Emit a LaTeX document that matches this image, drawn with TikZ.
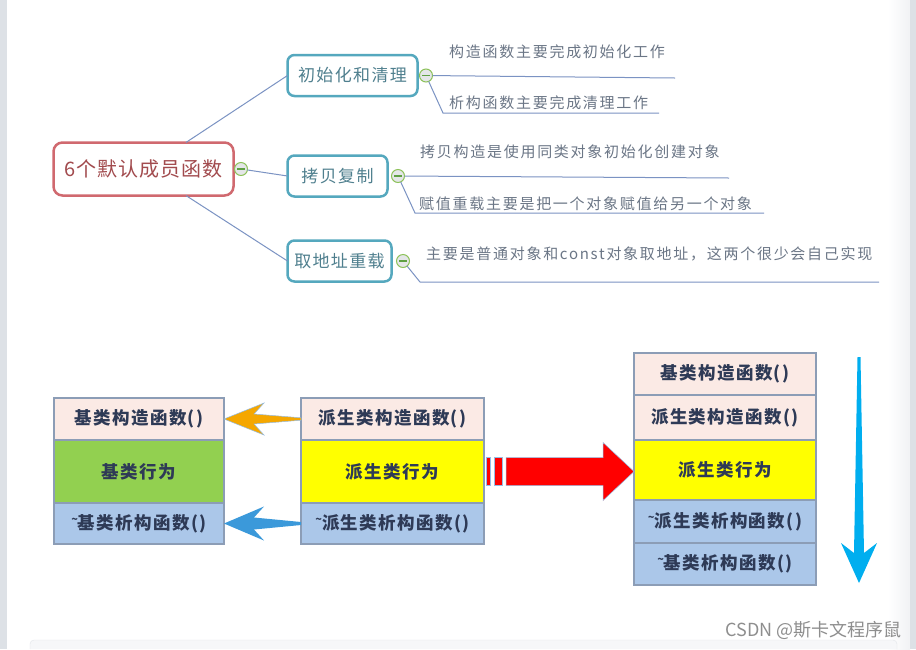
\documentclass[tikz,border=0pt]{standalone}
\usepackage{fontspec}
\usepackage{xcolor}
\setmainfont{Noto Sans CJK SC}
\newfontfamily\cjk{Noto Sans CJK SC}
\newfontfamily\cjkroot[LetterSpace=5]{Noto Sans CJK SC}
\newfontfamily\cjktopic[LetterSpace=8]{Noto Sans CJK SC}
\newfontfamily\cjkleaf[LetterSpace=11.5]{Noto Sans CJK SC}
\newfontfamily\cjkcell[LetterSpace=8]{Noto Sans CJK SC}
\usetikzlibrary{positioning,calc}

\definecolor{rootline}{HTML}{D0696F}
\definecolor{roottext}{HTML}{A24B4E}
\definecolor{topicline}{HTML}{55A8BE}
\definecolor{topictext}{HTML}{4F7F8E}
\definecolor{foldline}{HTML}{8DC25A}
\definecolor{foldfill}{HTML}{E4E6E8}
\definecolor{foldbar}{HTML}{5FA043}
\definecolor{branchline}{HTML}{7B93C3}
\definecolor{leaftext}{HTML}{6B7686}
\definecolor{cellline}{HTML}{8C9DB6}
\definecolor{celltext}{HTML}{2E3A56}
\definecolor{cellpink}{HTML}{FBEAE5}
\definecolor{cellgreen}{HTML}{92D050}
\definecolor{cellyellow}{HTML}{FFFF00}
\definecolor{cellblue}{HTML}{ABC7E9}
\definecolor{orangearr}{HTML}{F5A700}
\definecolor{bluearr}{HTML}{3B99DA}
\definecolor{redarr}{HTML}{FF0000}
\definecolor{rededge}{HTML}{95BDE5}
\definecolor{cyanarr}{HTML}{00AEEF}
\definecolor{chrome}{HTML}{DDE1E6}
\definecolor{chromelight}{HTML}{F1F2F4}
\definecolor{boxfill}{HTML}{F6F7F9}
\definecolor{boxline}{HTML}{E2E5E9}
\definecolor{csdngray}{HTML}{8E8E8E}

\newcommand{\tilda}{\raisebox{.35em}{\fontsize{11}{11}\selectfont\textasciitilde}}

\begin{document}
\begin{tikzpicture}[
    x=1pt, y=-1pt,
    root/.style={rectangle, rounded corners=9pt, draw=rootline, line width=2.5pt,
                 fill=white, text=roottext, font=\cjkroot\fontsize{20}{23}\selectfont,
                 minimum width=180, minimum height=53, outer sep=0pt},
    topic/.style={rectangle, rounded corners=7pt, draw=topicline, line width=2.5pt,
                  fill=white, text=topictext, font=\cjktopic\fontsize{17}{20}\selectfont,
                  minimum height=41, outer sep=0pt},
    fold/.style={circle, draw=foldline, line width=1pt, fill=foldfill,
                 minimum size=13, inner sep=0pt, outer sep=0pt,
                 path picture={\draw[foldbar, line width=1.3pt]
                   ([xshift=-4pt]path picture bounding box.center) --
                   ([xshift=4pt]path picture bounding box.center);}},
    leaf/.style={anchor=west, inner sep=0pt, text=leaftext,
                 font=\cjkleaf\fontsize{15}{18}\selectfont},
    branch/.style={draw=branchline, line width=1pt},
    cell/.style={rectangle, draw=cellline, line width=2pt, text=celltext,
                 font=\cjkcell\bfseries\fontsize{17.5}{20}\selectfont,
                 inner sep=0pt, outer sep=0pt},
    arrshape/.style={line width=0.5pt, line join=miter}
  ]
  \useasboundingbox (0,0) rectangle (916,649);
  % page
  \fill[white] (0,0) rectangle (916,649);
  \fill[chrome] (0,0) rectangle (7,649);
  \shade[left color=white, right color=chromelight] (888,0) rectangle (910,649);
  \fill[chrome] (910,0) rectangle (916,649);
  \draw[rounded corners=4pt, fill=boxfill, draw=boxline] (30,649) -- (30,640) -- (897,640) -- (897,649);

  % mind map
  \node[root] (root) at (143.5,169) {6个默认成员函数};
  \node[topic, minimum width=130] (t1) at (352.5,75.5) {初始化和清理};
  \node[topic, minimum width=100] (t2) at (337.5,176) {拷贝复制};
  \node[topic, minimum width=104] (t3) at (339.5,261) {取地址重载};
  \node[fold, right=1pt of root] (f0) {};
  \node[fold, right=2pt of t1] (f1) {};
  \node[fold, right=4pt of t2] (f2) {};
  \node[fold, right=5pt of t3] (f3) {};

  \node[leaf] (c1) at (449,52) {构造函数主要完成初始化工作};
  \node[leaf] (c2) at (449,103) {析构函数主要完成清理工作};
  \node[leaf] (c3) at (420,152) {拷贝构造是使用同类对象初始化创建对象};
  \node[leaf] (c4) at (419,204) {赋值重载主要是把一个对象赋值给另一个对象};
  \node[leaf] (c5) at (426,254) {主要是普通对象和const对象取地址，这两个很少会自己实现};

  \coordinate (c1e) at (675,78);
  \coordinate (c2k) at (443,113);
  \coordinate (c2e) at (659,113);
  \coordinate (c3e) at (729,178);
  \coordinate (c4k) at (415,213);
  \coordinate (c4e) at (764,213);
  \coordinate (c5k) at (420,282);
  \coordinate (c5e) at (879,282);

  \draw[branch] (root.32) -- (t1.west);
  \draw[branch] (f0) -- (t2.west);
  \draw[branch] (root.-32) -- (t3.west);
  \draw[branch] (f1) -- (c1e);
  \draw[branch] (f1) -- (c2k) -- (c2e);
  \draw[branch] (f2) -- (c3e);
  \draw[branch] (f2) -- (c4k) -- (c4e);
  \draw[branch] (f3) -- (c5k) -- (c5e);

  % base class
  \node[cell, fill=cellpink, minimum width=170, minimum height=42, anchor=north] (l1) at (139,398) {基类构造函数()};
  \node[cell, fill=cellgreen, minimum width=170, minimum height=63, below=0pt of l1] (l2) {基类行为};
  \node[cell, fill=cellblue, minimum width=170, minimum height=41, below=0pt of l2] (l3) {\tilda{}基类析构函数()};
  % derived class
  \node[cell, fill=cellpink, minimum width=183, minimum height=42, anchor=north] (m1) at (392.5,398) {派生类构造函数()};
  \node[cell, fill=cellyellow, minimum width=183, minimum height=63, below=0pt of m1] (m2) {派生类行为};
  \node[cell, fill=cellblue, minimum width=183, minimum height=41, below=0pt of m2] (m3) {\tilda{}派生类析构函数()};
  % whole object
  \node[cell, fill=cellpink, minimum width=182, minimum height=42, anchor=north] (r1) at (725,353) {基类构造函数()};
  \node[cell, fill=cellpink, minimum width=182, minimum height=45, below=0pt of r1] (r2) {派生类构造函数()};
  \node[cell, fill=cellyellow, minimum width=182, minimum height=60, below=0pt of r2] (r3) {派生类行为};
  \node[cell, fill=cellblue, minimum width=182, minimum height=43, below=0pt of r3] (r4) {\tilda{}派生类析构函数()};
  \node[cell, fill=cellblue, minimum width=182, minimum height=42, below=0pt of r4] (r5) {\tilda{}基类析构函数()};

  % call arrows
  \filldraw[arrshape, fill=orangearr, draw=rededge] (l1.east) -- ++(40,-16) -- ++(-10,11)
    -- ($(m1.west)+(0,-1.2)$) -- ($(m1.west)+(0,1.2)$) -- ($(l1.east)+(30,5)$)
    -- ($(l1.east)+(40,16)$) -- cycle;
  \fill[bluearr] (l3.east) -- ++(40,-17) -- ++(-10,11)
    -- ($(m3.west)+(0,-1.5)$) -- ($(m3.west)+(0,1.5)$) -- ($(l3.east)+(30,6)$)
    -- ($(l3.east)+(40,17)$) -- cycle;

  % inheritance arrow
  \filldraw[arrshape, fill=redarr, draw=rededge] ($(m2.east)+(2,-14)$) rectangle ($(m2.east)+(6,14)$);
  \filldraw[arrshape, fill=redarr, draw=rededge] ($(m2.east)+(10,-14)$) rectangle ($(m2.east)+(18,14)$);
  \filldraw[arrshape, fill=redarr, draw=rededge] ($(m2.east)+(22,-14)$)
    -- ($(r3.west |- m2.east)+(-31,-14)$) -- ($(r3.west |- m2.east)+(-31,-29)$)
    -- (r3.west |- m2.east) -- ($(r3.west |- m2.east)+(-31,29)$)
    -- ($(r3.west |- m2.east)+(-31,14)$) -- ($(m2.east)+(22,14)$) -- cycle;

  % order arrow
  \fill[cyanarr] (857.5,357) -- (860.5,357) -- (864,553) -- (877,543) -- (859,583)
    -- (841,543) -- (854,553) -- cycle;

  \node[anchor=east, inner sep=0pt, text=csdngray, font=\cjk\fontsize{18}{20}\selectfont] (mark) at (902,630) {CSDN @斯卡文程序鼠};
\end{tikzpicture}
\end{document}
